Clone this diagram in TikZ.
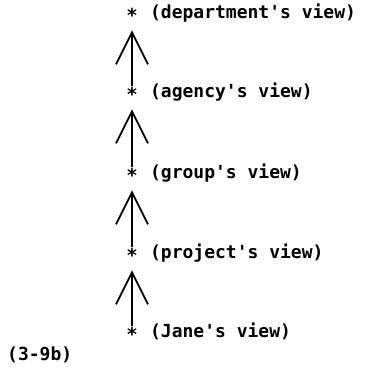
\documentclass[tikz,border=0pt]{standalone}
\usepackage{fontspec}
\setmonofont{DejaVu Sans Mono}
\usetikzlibrary{arrows.meta,positioning}
\tikzset{
  ST/.style={inner sep=0pt,font=\ttfamily\bfseries\fontsize{19}{19}\selectfont},
  LB/.style={inner sep=0pt,font=\ttfamily\bfseries\fontsize{18}{18}\selectfont},
  arr/.style={-{Straight Barb[length=32pt,width=32pt,line width=1.8pt]},line width=1.8pt,
              shorten >=12pt,shorten <=1pt}
}

\begin{document}
\begin{tikzpicture}[x=1pt,y=1pt]
  \useasboundingbox (0,0) rectangle (365,369);
  \node[ST] (dept) at (132,356) {∗};
  \node[ST] (agency) at (132,277) {∗};
  \node[ST] (group) at (132,196) {∗};
  \node[ST] (proj) at (132,116) {∗};
  \node[ST] (jane) at (132,37) {∗};
  \node[LB,base right=12pt of dept] (ldept) {(department's view)};
  \node[LB,base right=12pt of agency] (lagency) {(agency's view)};
  \node[LB,base right=12pt of group] (lgroup) {(group's view)};
  \node[LB,base right=12pt of proj] (lproj) {(project's view)};
  \node[LB,base right=12pt of jane] (ljane) {(Jane's view)};
  \node[LB,anchor=base west] (fig) at (7,9) {(3-9b)};

  \draw[arr](agency.north)--(dept.south);
  \draw[arr](group.north)--(agency.south);
  \draw[arr](proj.north)--(group.south);
  \draw[arr](jane.north)--(proj.south);
\end{tikzpicture}
\end{document}
